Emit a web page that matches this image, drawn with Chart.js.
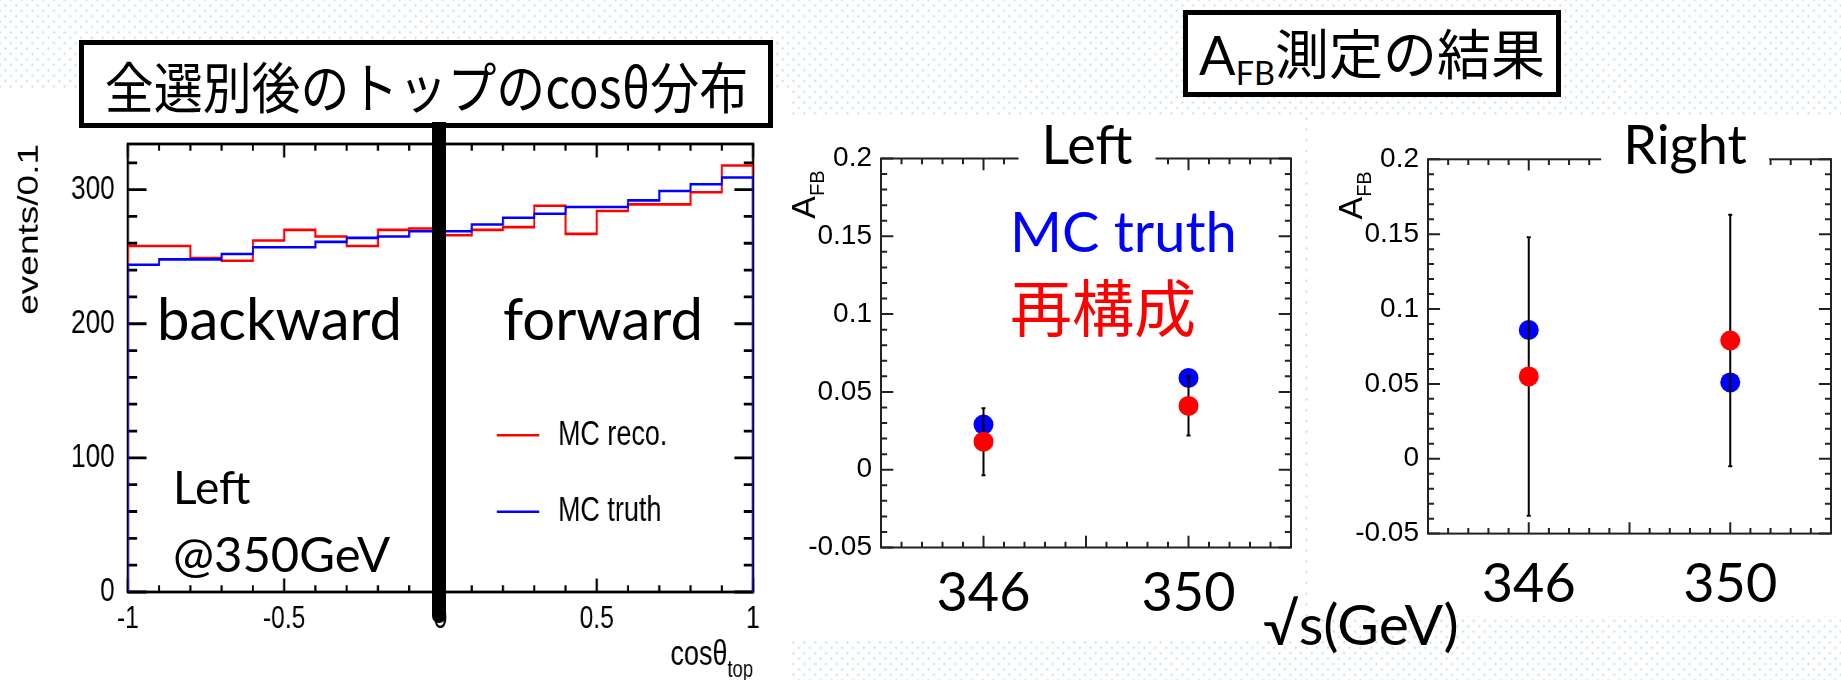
<!DOCTYPE html>
<html lang="ja">
<head>
<meta charset="utf-8">
<title>トップのcosθ分布とA_FB測定</title>
<script src="https://cdn.jsdelivr.net/npm/chart.js@4.4.1/dist/chart.umd.min.js"></script>
<style>
  html, body { margin: 0; padding: 0; }
  body {
    width: 1841px; height: 680px; position: relative; overflow: hidden;
    background-color: #fff;
    background-image:
      radial-gradient(circle at center, #cfe4ec 0 0.9px, transparent 1.5px),
      radial-gradient(circle at center, #cfe4ec 0 0.9px, transparent 1.5px);
    background-size: 10.8px 10.8px;
    background-position: 0 0, 5.4px 5.4px;
  }
  .panel { position: absolute; background: #fff; overflow: hidden; }
  .panel canvas { position: absolute; left: 0; top: 0; }
  /* the ROOT histogram is drawn with condensed lettering */
  #cosChart { transform: scaleX(0.77); transform-origin: 0 0; }
  .txt { position: absolute; white-space: nowrap; line-height: 1; color: #000; font-family: Lato, "Noto Sans CJK JP", sans-serif; }
  .cjk { font-family: "Noto Sans CJK JP", sans-serif; }
  .frame-title { background: #fff; transform: translateX(-50%); }
  .box {
    position: absolute; box-sizing: border-box; border: 5px solid #000; background: #fff;
    display: flex; align-items: center; justify-content: center; white-space: nowrap; line-height: 1;
  }
  .box sub { font-size: 0.6em; vertical-align: -0.3em; line-height: 0; }
  .condensed { display: inline-block; transform: scaleX(0.89); }
  #stem { position: absolute; left: 432px; top: 122px; width: 14px; height: 501px; background: #000; border-radius: 0 0 7px 7px; }
</style>
</head>
<body>

<div class="panel" style="left:0; top:90px; width:790px; height:590px;"><canvas id="cosChart" width="1026" height="590"></canvas></div>
<div class="panel" style="left:785px; top:116px; width:520px; height:524px;"><canvas id="afbLeft" width="520" height="524"></canvas></div>
<div class="panel" style="left:1310px; top:116px; width:531px; height:500px;"><canvas id="afbRight" width="531" height="500"></canvas></div>

<div class="box cjk" style="left:79px; top:40px; width:694px; height:88px; font-size:55px;"><span class="condensed">全選別後のトップのcosθ分布</span></div>
<div id="stem"></div>
<div class="box" style="left:1183px; top:10px; width:378px; height:87px; font-size:54px;"><span style="font-family: Lato, 'Noto Sans CJK JP', sans-serif;">A<sub>FB</sub><span class="cjk">測定の結果</span></span></div>

<div class="txt" data-baseline="340" style="left:157px; font-size:58px;">backward</div>
<div class="txt" data-baseline="340" style="left:503px; font-size:58px;">forward</div>
<div class="txt" data-baseline="505" style="left:173px; font-size:46px;">Left</div>
<div class="txt" data-baseline="572" style="left:173px; font-size:49px;">@350GeV</div>

<div class="txt frame-title" data-baseline="165" style="left:1087px; font-size:54px; padding:0 23px 6px;">Left</div>
<div class="txt frame-title" data-baseline="165" style="left:1685px; font-size:54px; padding:0 22px 6px;">Right</div>
<div class="txt" data-baseline="253" style="left:1010px; font-size:56px; color:#0000ff;">MC truth</div>
<div class="txt cjk" data-baseline="332" style="left:1010px; font-size:62px; color:#ff0000;">再構成</div>
<div class="txt" data-baseline="646" style="left:1263px; font-size:57px;">√s(GeV)</div>

<script>
// ---- cosθ_top distribution after all selections (Left, 350 GeV), 20 bins on [-1, 1]
const cosRange = [-1, 1];
const cosTicks = [-1, -0.5, 0, 0.5, 1];
const cosTickLabels = ['-1', '-0.5', '0', '0.5', '1'];
const eventTicks = [0, 100, 200, 300];
const eventTickLabels = ['0', '100', '200', '300'];
const recoCounts  = [258, 258, 249, 247, 262, 270, 265, 258, 270, 271, 266, 270, 272, 288, 267, 284, 289, 289, 298, 318];
const truthCounts = [244, 248, 248, 252, 257, 257, 261, 264, 265, 269, 269, 274, 279, 282, 287, 287, 292, 299, 304, 309];

// ---- A_FB at the two centre-of-mass energies
const sqrtS = [346, 350];
const sqrtSTickLabels = ['346', '350'];
const afbTicks = [-0.05, 0, 0.05, 0.1, 0.15, 0.2];
const afbTickLabels = ['-0.05', '0', '0.05', '0.1', '0.15', '0.2'];
const leftTruth = [0.029, 0.059];
const leftReco = [0.018, 0.041];
const leftRecoErr = [0.0215, 0.019];
const rightTruth = [0.086, 0.051];
const rightReco = [0.055, 0.079];
const rightRecoErr = [0.093, 0.084];

// ---- slide text placed by baseline
const BASELINE_K = { lato: 0.887, cjk: 0.936 };
document.querySelectorAll('[data-baseline]').forEach(el => {
  const fs = parseFloat(getComputedStyle(el).fontSize);
  const k = el.classList.contains('cjk') ? BASELINE_K.cjk : BASELINE_K.lato;
  el.style.top = (parseFloat(el.dataset.baseline) - k * fs) + 'px';
});

const HELV = "'Liberation Sans', Arial, sans-serif";

// ROOT-style frame with inward major/minor ticks on all four sides
const rootFrame = {
  id: 'rootFrame',
  beforeDatasetsDraw(chart, args, o) {
    const { ctx, chartArea: a, scales: { x, y } } = chart;
    const xLen = 0.03 * (a.bottom - a.top), yLen = 0.03 * (a.right - a.left);
    ctx.save();
    ctx.strokeStyle = o.color;
    ctx.lineWidth = o.frameWidth;
    ctx.strokeRect(a.left, a.top, a.right - a.left, a.bottom - a.top);
    ctx.lineWidth = o.tickWidth;
    ctx.beginPath();
    const walk = (scale, origin, minor, every, fn) => {
      const k0 = Math.ceil((scale.min - origin) / minor - 1e-6);
      const k1 = Math.floor((scale.max - origin) / minor + 1e-6);
      for (let k = k0; k <= k1; k++) {
        const p = scale.getPixelForValue(origin + k * minor);
        fn(p, ((k % every) + every) % every === 0);
      }
    };
    walk(x, o.xOrigin, o.xMinor, o.xEvery, (p, major) => {
      const l = major ? xLen : xLen / 2;
      ctx.moveTo(p, a.bottom); ctx.lineTo(p, a.bottom - l);
      ctx.moveTo(p, a.top); ctx.lineTo(p, a.top + l);
    });
    walk(y, o.yOrigin, o.yMinor, o.yEvery, (p, major) => {
      const l = major ? yLen : yLen / 2;
      ctx.moveTo(a.left, p); ctx.lineTo(a.left + l, p);
      ctx.moveTo(a.right, p); ctx.lineTo(a.right - l, p);
    });
    ctx.stroke();
    ctx.restore();
  }
};

// Axis titles (with subscripts) aligned to the far end of each axis
function drawToEnd(ctx, parts, family, color) {
  const widths = parts.map(p => { ctx.font = `${p.size}px ${family}`; return ctx.measureText(p.text).width; });
  let x = -widths.reduce((s, w) => s + w, 0);
  ctx.fillStyle = color; ctx.textAlign = 'left'; ctx.textBaseline = 'alphabetic';
  parts.forEach((p, i) => { ctx.font = `${p.size}px ${family}`; ctx.fillText(p.text, x, p.dy || 0); x += widths[i]; });
}
const axisTitles = {
  id: 'axisTitles',
  afterDraw(chart, args, o) {
    const { ctx, chartArea: a } = chart;
    if (o.x) {
      ctx.save(); ctx.translate(a.right, a.bottom + o.x.below);
      drawToEnd(ctx, o.x.parts, o.x.family, '#000'); ctx.restore();
    }
    if (o.y) {
      ctx.save(); ctx.translate(a.left - o.y.left, a.top + o.y.inset); ctx.rotate(-Math.PI / 2);
      drawToEnd(ctx, o.y.parts, o.y.family, '#000'); ctx.restore();
    }
  }
};

// Legend drawn inside the plotting frame
const frameLegend = {
  id: 'frameLegend',
  afterDraw(chart, args, o) {
    if (!o.rows) return;
    const { ctx, chartArea: a } = chart;
    const W = a.right - a.left, H = a.bottom - a.top;
    ctx.save();
    ctx.font = o.font; ctx.textBaseline = 'middle'; ctx.textAlign = 'left'; ctx.fillStyle = '#000';
    o.rows.forEach(r => {
      const ds = chart.data.datasets[r.dataset];
      const yy = a.top + r.y * H;
      ctx.strokeStyle = ds.borderColor; ctx.lineWidth = ds.borderWidth;
      ctx.beginPath(); ctx.moveTo(a.left + o.x0 * W, yy); ctx.lineTo(a.left + o.x1 * W, yy); ctx.stroke();
      ctx.fillText(ds.label, a.left + o.tx * W, yy);
    });
    ctx.restore();
  }
};

function linearAxis(min, max, ticks, labels, font, padding, fixed, horizontal) {
  return {
    type: 'linear', min, max,
    grid: { display: false, drawTicks: false },
    border: { display: false },
    afterBuildTicks: s => { s.ticks = ticks.map(value => ({ value })); },
    afterFit: s => { if (horizontal) s.height = fixed; else s.width = fixed; },
    ticks: {
      autoSkip: false, maxRotation: 0, minRotation: 0, padding, color: '#000', font,
      callback: v => labels[ticks.indexOf(v)]
    }
  };
}

// Step outline of a histogram built from its bin contents
function stepOutline(counts, lo, hi) {
  const w = (hi - lo) / counts.length;
  const pts = [{ x: lo, y: 0 }];
  counts.forEach((c, i) => { pts.push({ x: lo + i * w, y: c }, { x: lo + (i + 1) * w, y: c }); });
  pts.push({ x: hi, y: 0 });
  return pts;
}

const common = {
  responsive: false, animation: false, devicePixelRatio: 1,
  events: [],
  plugins: { legend: { display: false }, tooltip: { enabled: false }, title: { display: false } }
};

new Chart(document.getElementById('cosChart'), {
  type: 'scatter',
  data: {
    datasets: [
      { label: 'MC truth', data: stepOutline(truthCounts, cosRange[0], cosRange[1]), showLine: true, pointRadius: 0,
        borderColor: '#0000ff', borderWidth: 2.6, borderJoinStyle: 'miter', order: 0 },
      { label: 'MC reco.', data: stepOutline(recoCounts, cosRange[0], cosRange[1]), showLine: true, pointRadius: 0,
        borderColor: '#ff0000', borderWidth: 2.6, borderJoinStyle: 'miter', order: 1 }
    ]
  },
  options: {
    ...common,
    layout: { padding: { left: 0, top: 54, right: 48, bottom: 0 } },
    scales: {
      x: linearAxis(cosRange[0], cosRange[1], cosTicks, cosTickLabels, { family: HELV, size: 32 }, 8, 88, true),
      y: linearAxis(0, 334, eventTicks, eventTickLabels, { family: HELV, size: 34 }, 17, 166, false)
    },
    plugins: {
      ...common.plugins,
      rootFrame: { color: '#000', frameWidth: 2.8, tickWidth: 2.8, xOrigin: -1, xMinor: 0.1, xEvery: 5, yOrigin: 0, yMinor: 20, yEvery: 5 },
      axisTitles: {
        x: { below: 73, family: HELV, parts: [{ text: 'cosθ', size: 35 }, { text: 'top', size: 24, dy: 12 }] },
        y: { left: 117, inset: 0, family: HELV, parts: [{ text: 'events/0.1', size: 37 }] }
      },
      frameLegend: { font: `35px ${HELV}`, x0: 0.59, x1: 0.658, tx: 0.688,
        rows: [{ dataset: 1, y: 0.650 }, { dataset: 0, y: 0.821 }] }
    }
  },
  plugins: [rootFrame, axisTitles, frameLegend]
});

function afbChart(id, truth, reco, recoErr, geom) {
  const errorBars = sqrtS.map((e, i) => ({
    label: 'stat. error', data: [{ x: e, y: reco[i] - recoErr[i] }, { x: e, y: reco[i] + recoErr[i] }],
    showLine: true, borderColor: '#000', borderWidth: 2, pointStyle: 'line', pointRadius: 2,
    pointBorderColor: '#000', pointBorderWidth: 2, order: 1
  }));
  return new Chart(document.getElementById(id), {
    type: 'scatter',
    data: {
      datasets: [
        { label: '再構成', data: sqrtS.map((e, i) => ({ x: e, y: reco[i] })), pointRadius: 10,
          pointBackgroundColor: '#ff0000', pointBorderWidth: 0, order: 0 },
        ...errorBars,
        { label: 'MC truth', data: sqrtS.map((e, i) => ({ x: e, y: truth[i] })), pointRadius: 10,
          pointBackgroundColor: '#0000ff', pointBorderWidth: 0, order: 2 }
      ]
    },
    options: {
      ...common,
      layout: { padding: { left: 0, top: geom.top, right: geom.right, bottom: 0 } },
      scales: {
        x: linearAxis(344, 352, sqrtS, sqrtSTickLabels, { family: 'Lato, sans-serif', size: 54 }, geom.xPad, geom.xH, true),
        y: linearAxis(-0.05, 0.2, afbTicks, afbTickLabels, { family: HELV, size: 28 }, 9, geom.yW, false)
      },
      plugins: {
        ...common.plugins,
        rootFrame: { color: '#222', frameWidth: 2, tickWidth: 2, xOrigin: 344, xMinor: 0.4, xEvery: 5, yOrigin: -0.05, yMinor: 0.01, yEvery: 5 },
        axisTitles: {
          y: { left: 66, inset: 12, family: HELV, parts: [{ text: 'A', size: 34 }, { text: 'FB', size: 20, dy: 9 }] }
        }
      }
    },
    plugins: [rootFrame, axisTitles]
  });
}

afbChart('afbLeft', leftTruth, leftReco, leftRecoErr, { top: 42.5, right: 14, yW: 96, xH: 92.5, xPad: 14 });
afbChart('afbRight', rightTruth, rightReco, rightRecoErr, { top: 43.3, right: 1, yW: 118, xH: 82.4, xPad: 19 });
</script>
</body>
</html>
